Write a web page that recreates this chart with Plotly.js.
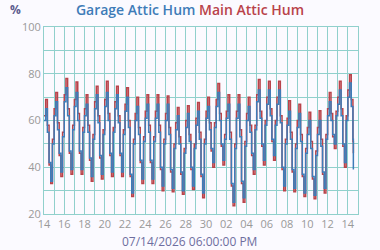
<!DOCTYPE html>
<html>
<head>
<meta charset="utf-8">
<script src="https://cdn.plot.ly/plotly-3.0.1.min.js"></script>
<style>html,body{margin:0;padding:0;background:#fbfaff;}#chart{width:380px;height:250px;}</style>
</head>
<body>
<div id="chart"></div>
<script>
// Samples every 4 hours starting 2026-06-14 00:00
const startTime = '2026-06-14T00:00:00';
const stepHours = 4;
const seriesNames = ['Garage Attic Hum', 'Main Attic Hum'];
const garageHum = [
  60,65,55,42,34,50,
  62,68,56,46,38,53,
  68,74,62,47,39,56,
  66,72,60,47,39,55,
  62,67,55,44,36,52,
  65,71,59,45,37,54,
  66,72,60,46,38,55,
  65,71,59,46,38,54,
  64,70,57,37,29,50,
  60,66,54,43,35,51,
  61,67,55,43,35,51,
  61,67,55,40,32,50,
  60,67,54,39,31,48,
  56,62,50,38,30,46,
  57,63,51,40,32,48,
  58,64,52,37,29,50,
  61,66,56,48,42,57,
  66,72,60,50,43,52,
  61,67,52,33,25,48,
  61,67,53,34,27,49,
  60,66,55,46,39,56,
  68,73,61,50,43,58,
  67,73,62,52,45,58,
  67,73,59,40,32,50,
  58,64,52,39,31,48,
  57,63,51,37,29,46,
  54,60,48,36,28,45,
  54,60,49,38,31,52,
  62,68,60,54,50,62,
  67,73,62,50,42,60,
  70,76,66,52,39
];
const mainHum = [
  62,69,58,41,33,52,
  65,72,59,45,36,55,
  71,78,65,46,37,58,
  69,76.5,63,46,37,57,
  65,71,58,43,34,54,
  68,74.7,62,44,35,56,
  69,76.8,63,45,36,57,
  68,74.7,62,45,36,56,
  67,74,60,36,27.5,52,
  63,70,57,42,33,53,
  64,71,58,42,33,53,
  64,71,58,39,30,52,
  63,70.5,57,38,29.5,50,
  59,65.6,53,37,28.5,48,
  60,66.3,54,39,30.5,50,
  61,67.7,55,36,27,52,
  64,70,59,47,40,59,
  69,75.8,63,49,41,54,
  64,71,55,32,23.5,50,
  64,71,56,33,25,51,
  63,70,58,45,37,58,
  71,77.5,64,49,41,60,
  70,76.8,65,51,43,60,
  70,76.8,62,39,30,52,
  61,68.4,55,38,29.5,50,
  60,67,54,36,27.5,48,
  57,63.5,51,35,26.5,47,
  57,64.2,52,37,29,54,
  65,72,63,53,48,64,
  70,76.8,65,49,40,62,
  73,79.6,69,51,46
];
const currentTimeLabel = '07/14/2026 06:00:00 PM';
const yUnit = '%';

function times(n){
  const t0 = new Date(startTime + 'Z').getTime();
  const out = [];
  for (let i = 0; i < n; i++) {
    let ms = t0 + i * stepHours * 3600000;
    if (i === n - 1) ms = t0 + (n - 2) * stepHours * 3600000 + 1 * 3600000;
    out.push(new Date(ms).toISOString().slice(0,19).replace('T',' '));
  }
  return out;
}

const blue = '#3e7cb8', red = '#b9434a';
const traces = [
  {x: times(mainHum.length), y: mainHum, name: seriesNames[1], type: 'scatter', mode: 'lines',
   line: {color: red, width: 1.5, shape: 'hv'}},
  {x: times(garageHum.length), y: garageHum, name: seriesNames[0], type: 'scatter', mode: 'lines',
   line: {color: blue, width: 1.5, shape: 'hv'}}
];

const grid = '#90d0cc';
const layout = {
  width: 380, height: 250,
  paper_bgcolor: '#fbfaff', plot_bgcolor: '#fbfaff',
  margin: {l: 44, r: 22, t: 27, b: 36},
  showlegend: false,
  font: {family: 'Open Sans, sans-serif', color: '#999999', size: 11},
  title: {
    text: '<span style="color:' + blue + '">' + seriesNames[0] + '</span> <span style="color:' + red + '">' + seriesNames[1] + '</span>',
    x: 0.5, xref: 'container', y: 0.958, yref: 'container', yanchor: 'middle',
    font: {family: 'Open Sans, sans-serif', size: 14, weight: 600}
  },
  xaxis: {
    type: 'date',
    range: ['2026-06-14 00:00', '2026-07-15 00:00'],
    dtick: 2 * 86400000, tick0: '2026-06-14',
    tickformat: '%d',
    showgrid: true, gridcolor: grid, gridwidth: 1,
    minor: {dtick: 86400000, showgrid: true, gridcolor: grid, gridwidth: 1},
    showline: true, linecolor: grid, mirror: true,
    zeroline: false, ticks: '',
    tickfont: {color: '#999999', size: 11}
  },
  yaxis: {
    range: [20, 100], dtick: 20,
    showgrid: true, gridcolor: grid, gridwidth: 1,
    minor: {dtick: 10, showgrid: true, gridcolor: grid, gridwidth: 1},
    showline: true, linecolor: grid, mirror: true,
    zeroline: false, ticks: '',
    tickfont: {color: '#999999', size: 11}
  },
  annotations: [
    {text: '<b>' + yUnit + '</b>', xref: 'paper', yref: 'paper', x: -0.092, y: 1.093,
     xanchor: 'center', yanchor: 'middle', showarrow: false,
     font: {color: '#5c5c8e', size: 12}},
    {text: currentTimeLabel, xref: 'paper', yref: 'paper', x: 0.463, y: -0.149,
     xanchor: 'center', yanchor: 'middle', showarrow: false,
     font: {color: '#6e6ea0', size: 12}}
  ]
};

Plotly.newPlot('chart', traces, layout, {staticPlot: true, displayModeBar: false});
</script>
</body>
</html>
